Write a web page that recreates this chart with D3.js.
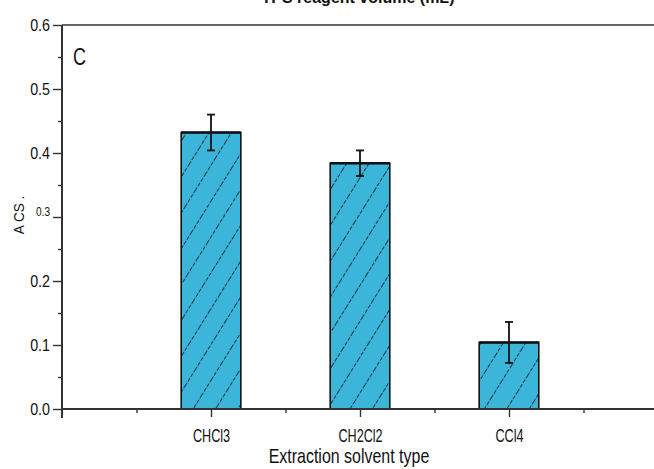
<!DOCTYPE html>
<html>
<head>
<meta charset="utf-8">
<script src="https://cdn.jsdelivr.net/npm/d3@7"></script>
<style>
  html, body { margin: 0; padding: 0; background: #fff; }
  svg { display: block; }
  text { font-family: "Liberation Sans", Arial, sans-serif; fill: #111; }
</style>
</head>
<body>
<svg id="chart" width="654" height="469"></svg>
<script>
// Absorbance for each extraction solvent
const categories = ["CHCl3", "CH2Cl2", "CCl4"];
const values = [0.432, 0.384, 0.104];
const errors = [0.028, 0.020, 0.032];
const yTicks = [0.0, 0.1, 0.2, 0.3, 0.4, 0.5, 0.6];
const yTickLabels = ["0.0", "0.1", "0.2", "0.3", "0.4", "0.5", "0.6"];

const svg = d3.select("#chart");
const W = 654, H = 469;
const plotLeft = 62, plotTop = 25, plotBottom = 409;

// narrow the lettering to a condensed look
function squeeze(sel, ratio) {
  sel.each(function () {
    const len = this.getComputedTextLength();
    d3.select(this).attr("textLength", len * ratio).attr("lengthAdjust", "spacingAndGlyphs");
  });
}

// category slots sit at 1..n on a continuous position axis
const x = d3.scaleLinear().domain([0, 4]).range([plotLeft, 658]);
const y = d3.scaleLinear().domain([0, 0.6]).range([plotBottom, plotTop]);
const barW = x(0.4) - x(0);

// hatch pattern for the bars
const defs = svg.append("defs");
const pat = defs.append("pattern")
  .attr("id", "hatch")
  .attr("patternUnits", "userSpaceOnUse")
  .attr("width", 19).attr("height", 19)
  .attr("patternTransform", "rotate(32)");
pat.append("rect").attr("width", 19).attr("height", 19).attr("fill", "#3cb5da");
pat.append("line")
  .attr("x1", 0).attr("y1", 0).attr("x2", 0).attr("y2", 19)
  .attr("stroke", "#0c1418").attr("stroke-width", 1.6)
  .attr("stroke-dasharray", "4 1.5");

// frame: top line
svg.append("line")
  .attr("x1", plotLeft).attr("x2", W).attr("y1", plotTop).attr("y2", plotTop)
  .attr("stroke", "#333").attr("stroke-width", 1.6);

// bars
const g = svg.append("g");
g.selectAll("rect.bar").data(values).enter().append("rect")
  .attr("class", "bar")
  .attr("x", (d, i) => x(i + 1) - barW / 2)
  .attr("width", barW)
  .attr("y", d => y(d))
  .attr("height", d => y(0) - y(d))
  .attr("fill", "url(#hatch)")
  .attr("stroke", "#111").attr("stroke-width", 1.6);
// thicker top edge of each bar
g.selectAll("line.btop").data(values).enter().append("line")
  .attr("x1", (d, i) => x(i + 1) - barW / 2)
  .attr("x2", (d, i) => x(i + 1) + barW / 2)
  .attr("y1", d => y(d)).attr("y2", d => y(d))
  .attr("stroke", "#111").attr("stroke-width", 2.6);

// error bars
const eg = svg.append("g").attr("stroke", "#111").attr("stroke-width", 1.8);
values.forEach((v, i) => {
  const cx = x(i + 1);
  eg.append("line").attr("x1", cx).attr("x2", cx).attr("y1", y(v + errors[i])).attr("y2", y(v - errors[i]));
  eg.append("line").attr("x1", cx - 4).attr("x2", cx + 4).attr("y1", y(v + errors[i])).attr("y2", y(v + errors[i]));
  eg.append("line").attr("x1", cx - 4).attr("x2", cx + 4).attr("y1", y(v - errors[i])).attr("y2", y(v - errors[i]));
});

// y axis with major and minor ticks
const yAxis = d3.axisLeft(y).tickValues(yTicks)
  .tickFormat((d, i) => yTickLabels[i]).tickSize(9).tickPadding(3);
const ya = svg.append("g").attr("transform", `translate(${plotLeft},0)`).call(yAxis);
ya.select(".domain").remove();
ya.selectAll(".tick line").attr("stroke", "#333").attr("stroke-width", 1.4);
ya.selectAll(".tick text")
  .attr("font-family", null)
  .style("font-size", (d) => d === 0.3 ? "12px" : "17px")
  .attr("dy", (d) => d === 0.3 ? "-0.1em" : "0.34em");
squeeze(ya.selectAll(".tick text"), 0.84);
const yMinor = d3.axisLeft(y).tickValues(d3.range(0.05, 0.6, 0.1)).tickSize(4).tickFormat("");
const ym = svg.append("g").attr("transform", `translate(${plotLeft},0)`).call(yMinor);
ym.select(".domain").remove();
ym.selectAll(".tick line").attr("stroke", "#333").attr("stroke-width", 1.4);

svg.append("line")
  .attr("x1", plotLeft).attr("x2", plotLeft).attr("y1", plotTop).attr("y2", plotBottom + 9)
  .attr("stroke", "#333").attr("stroke-width", 2);

// x axis with major and minor ticks
const xAxis = d3.axisBottom(x).tickValues([1, 2, 3])
  .tickFormat((d) => categories[d - 1]).tickSize(8).tickPadding(12);
const xa = svg.append("g").attr("transform", `translate(0,${plotBottom})`).call(xAxis);
xa.select(".domain").remove();
xa.selectAll(".tick line").attr("stroke", "#333").attr("stroke-width", 1.4);
xa.selectAll(".tick text").attr("font-family", null).style("font-size", "18px");
squeeze(xa.selectAll(".tick text"), 0.7);
const xMinor = d3.axisBottom(x).tickValues([0.5, 1.5, 2.5, 3.5]).tickSize(4).tickFormat("");
const xm = svg.append("g").attr("transform", `translate(0,${plotBottom})`).call(xMinor);
xm.select(".domain").remove();
xm.selectAll(".tick line").attr("stroke", "#333").attr("stroke-width", 1.4);

svg.append("line")
  .attr("x1", plotLeft).attr("x2", W).attr("y1", plotBottom).attr("y2", plotBottom)
  .attr("stroke", "#333").attr("stroke-width", 2);

// titles
const xTitle = svg.append("text")
  .attr("x", 349).attr("y", 463)
  .attr("text-anchor", "middle")
  .style("font-size", "21px")
  .text("Extraction solvent type");
squeeze(xTitle, 0.76);

const yTitle = svg.append("text")
  .attr("transform", "translate(24,215) rotate(-90)")
  .attr("text-anchor", "middle")
  .style("font-size", "15px")
  .text("A CS .");
squeeze(yTitle, 0.9);

const panel = svg.append("text")
  .attr("x", 73).attr("y", 65)
  .style("font-size", "24px")
  .text("C");
squeeze(panel, 0.75);

const topTitle = svg.append("text")
  .attr("x", 358).attr("y", 3)
  .attr("text-anchor", "middle")
  .style("font-size", "16px").style("font-weight", "bold")
  .text("TPS reagent volume (mL)");
</script>
</body>
</html>
